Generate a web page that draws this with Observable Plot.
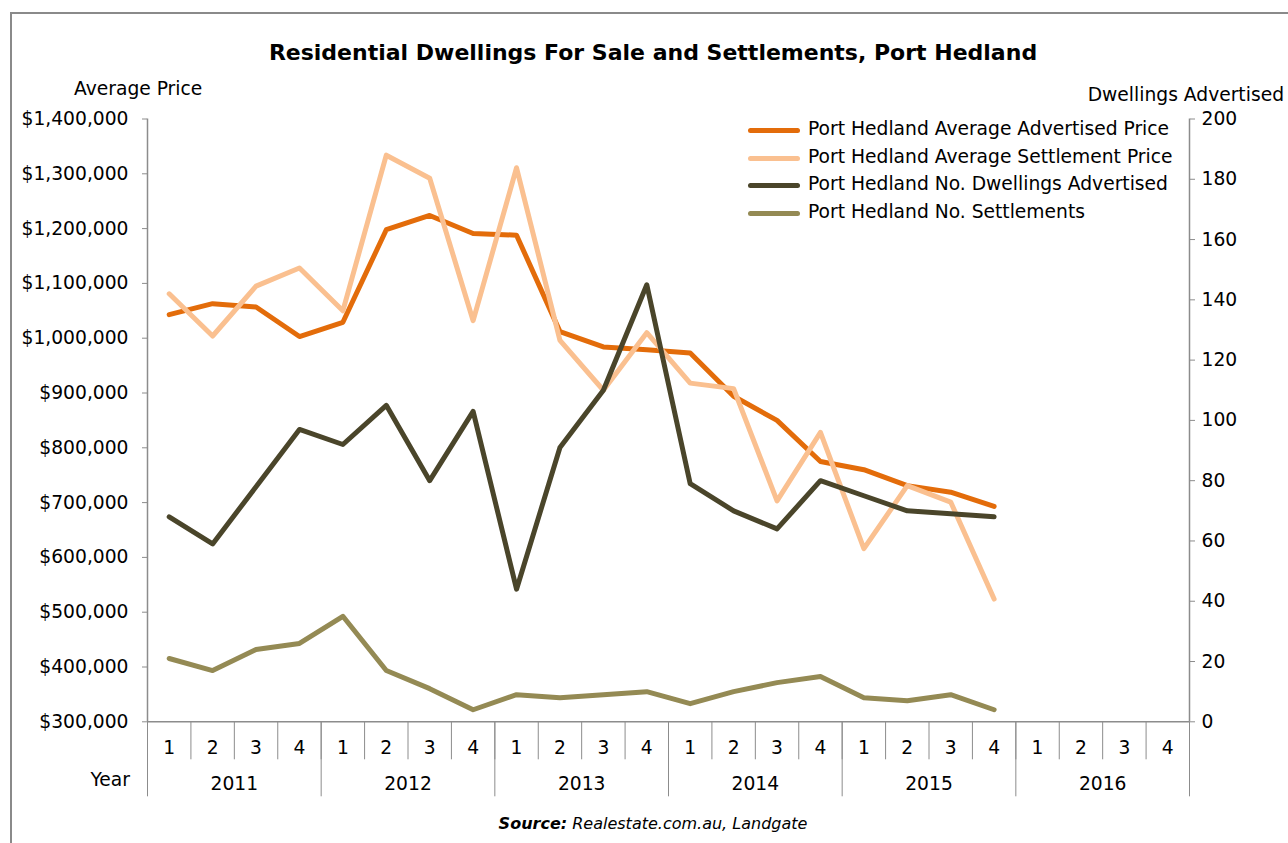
<!DOCTYPE html>
<html>
<head>
<meta charset="utf-8">
<script src="https://cdn.jsdelivr.net/npm/d3@7"></script>
<script src="https://cdn.jsdelivr.net/npm/@observablehq/plot@0.6"></script>
<style>
  html, body { margin: 0; padding: 0; background: #fff; }
  #wrap { position: relative; width: 1288px; height: 843px; overflow: hidden; font-family: "DejaVu Sans", Verdana, sans-serif; color: #000; }
  #border { position: absolute; left: 10px; top: 12px; width: 1400px; height: 1000px; border-left: 2px solid #8a8a8a; border-top: 2px solid #8a8a8a; }
  #chart { position: absolute; left: 0; top: 0; }
  .lbl { position: absolute; white-space: nowrap; }
  #title { left: 0; width: 1306px; text-align: center; top: 40px; font-size: 22px; font-weight: bold; }
  #ylab { left: 74px; top: 78px; font-size: 18.7px; }
  #y2lab { right: 4px; top: 84px; font-size: 18.7px; }
  #yearlab { right: 1158px; top: 769px; font-size: 18.7px; }
  #source { left: 0; width: 1306px; text-align: center; top: 814px; font-size: 16px; font-style: italic; }
  .leg { position: absolute; left: 748px; font-size: 18.7px; height: 22px; }
  .leg .sw { position: absolute; left: 0; top: 8px; width: 52px; height: 5px; border-radius: 3px; }
  .leg .tx { position: absolute; left: 60px; top: -2px; white-space: nowrap; }
  svg [aria-label="y-axis tick"] path, svg [aria-label="x-axis tick"] path,
  svg [aria-label="y-axis tick"], svg [aria-label="x-axis tick"] { stroke: #8c8c8c; }
  svg [aria-label="y-axis tick label"], svg [aria-label="x-axis tick label"] { fill: #000; }
</style>
</head>
<body>
<div id="wrap">
  <div id="border"></div>
  <div id="chart"></div>
  <div class="lbl" id="title">Residential Dwellings For Sale and Settlements, Port Hedland</div>
  <div class="lbl" id="ylab">Average Price</div>
  <div class="lbl" id="y2lab">Dwellings Advertised</div>
  <div class="lbl" id="yearlab">Year</div>
  <div class="lbl" id="source"><b>Source:</b> Realestate.com.au, Landgate</div>
  <div id="legend"></div>
</div>
<script>
// ---- data ----
const years = ["2011", "2012", "2013", "2014", "2015", "2016"];
const quarters = ["1", "2", "3", "4"];
const seriesNames = [
  "Port Hedland Average Advertised Price",
  "Port Hedland Average Settlement Price",
  "Port Hedland No. Dwellings Advertised",
  "Port Hedland No. Settlements"
];
const seriesColors = ["#E36C0A", "#FAC090", "#4A452A", "#948A54"];
const advertisedPrice = [1043000, 1063000, 1057000, 1003000, 1029000, 1198000, 1224000, 1191000, 1188000, 1012000, 984000, 979000, 973000, 894000, 850000, 775000, 760000, 731000, 719000, 693000];
const settlementPrice = [1081000, 1004000, 1095000, 1128000, 1050000, 1334000, 1292000, 1032000, 1311000, 996000, 905000, 1010000, 918000, 908000, 703000, 828000, 616000, 731000, 701000, 524000];
const dwellingsAdvertised = [68, 59, 78, 97, 92, 105, 80, 103, 44, 91, 110, 145, 79, 70, 64, 80, 75, 70, 69, 68];
const settlements = [21, 17, 24, 26, 35, 17, 11, 4, 9, 8, 9, 10, 6, 10, 13, 15, 8, 7, 9, 4];
const priceTicks = [300000, 400000, 500000, 600000, 700000, 800000, 900000, 1000000, 1100000, 1200000, 1300000, 1400000];
const countTicks = [0, 20, 40, 60, 80, 100, 120, 140, 160, 180, 200];

// ---- scales mapping (right axis shares the left axis range) ----
const priceMin = 300000, priceMax = 1400000, countMax = 200;
const toPrice = c => priceMin + c * (priceMax - priceMin) / countMax;
const nPeriods = years.length * quarters.length;

const rows = (vals, name, conv) => vals.map((v, i) => ({i: i + 0.5, y: conv ? toPrice(v) : v, name}));
const data = [
  rows(advertisedPrice, seriesNames[0], false),
  rows(settlementPrice, seriesNames[1], false),
  rows(dwellingsAdvertised, seriesNames[2], true),
  rows(settlements, seriesNames[3], true)
];

const qCenters = d3.range(nPeriods).map(i => i + 0.5);
const yCenters = years.map((y, k) => k * 4 + 2);

const fmt = d3.format("$,.0f");

const chart = Plot.plot({
  width: 1288,
  height: 843,
  marginLeft: 147,
  marginRight: 99,
  marginTop: 118.5,
  marginBottom: 121.7,
  style: {fontFamily: "'DejaVu Sans', Verdana, sans-serif", fontSize: "18.7px", color: "#000", background: "transparent"},
  x: {type: "linear", domain: [0, nPeriods]},
  y: {type: "linear", domain: [priceMin, priceMax]},
  marks: [
    Plot.axisY({ticks: priceTicks, tickFormat: fmt, tickSize: 5, tickPadding: 14, label: null}),
    Plot.axisY({anchor: "right", ticks: countTicks.map(toPrice), tickFormat: d => String(Math.round((d - priceMin) * countMax / (priceMax - priceMin))), tickSize: 5, tickPadding: 7, label: null}),
    Plot.axisX({ticks: d3.range(0, nPeriods + 1), tickSize: 38, tickFormat: () => "", label: null}),
    Plot.axisX({ticks: d3.range(0, nPeriods + 1, 4), tickSize: 75, tickFormat: () => "", label: null}),
    Plot.axisX({ticks: qCenters, tickSize: 0, tickPadding: 19, tickFormat: d => quarters[Math.floor(d) % 4], label: null}),
    Plot.axisX({ticks: yCenters, tickSize: 0, tickPadding: 55, tickFormat: d => years[Math.floor(d / 4)], label: null}),
    Plot.ruleX([0, nPeriods], {stroke: "#8c8c8c", strokeWidth: 1.5}),
    Plot.ruleY([priceMin], {stroke: "#8c8c8c", strokeWidth: 1.5}),
    ...data.map((d, k) => Plot.line(d, {x: "i", y: "y", stroke: seriesColors[k], strokeWidth: 5, strokeLinejoin: "round", strokeLinecap: "round"}))
  ]
});
document.getElementById("chart").appendChild(chart);

// ---- legend ----
const legTops = [120, 148, 175, 203];
const legend = document.getElementById("legend");
seriesNames.forEach((n, k) => {
  const el = document.createElement("div");
  el.className = "leg";
  el.style.top = legTops[k] + "px";
  el.innerHTML = `<div class="sw" style="background:${seriesColors[k]}"></div><div class="tx">${n}</div>`;
  legend.appendChild(el);
});
</script>
</body>
</html>
